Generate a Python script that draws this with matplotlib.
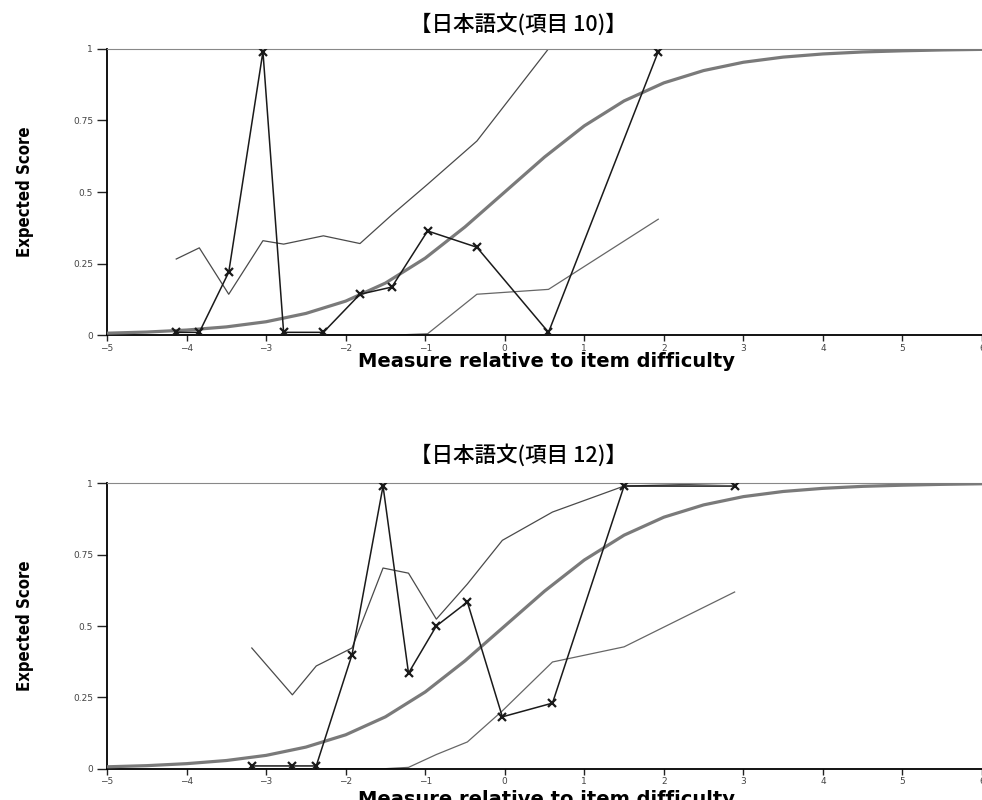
import matplotlib
matplotlib.use('Agg')
import matplotlib.pyplot as plt

# model curve (expected score) at half-logit steps
ogive_x = [-5, -4.5, -4, -3.5, -3, -2.5, -2, -1.5, -1, -0.5, 0, 0.5, 1, 1.5, 2, 2.5, 3, 3.5, 4, 4.5, 5, 5.5, 6]
ogive_y = [0.007, 0.011, 0.018, 0.029, 0.047, 0.076, 0.119, 0.182, 0.269, 0.378, 0.5, 0.622,
           0.731, 0.818, 0.881, 0.924, 0.953, 0.971, 0.982, 0.989, 0.993, 0.996, 0.998]

# item 10
x10 = [-4.13, -3.84, -3.47, -3.04, -2.78, -2.28, -1.82, -1.42, -0.97, -0.35, 0.55, 1.93]
emp10 = [0.01, 0.01, 0.22, 0.99, 0.01, 0.01, 0.143, 0.168, 0.364, 0.307, 0.01, 0.99]
upper10 = [0.266, 0.305, 0.143, 0.33, 0.318, 0.347, 0.32, 0.42, 0.527, 0.678, 1.0, 1.0]
lower10 = [0, 0, 0, 0, 0, 0, 0, 0, 0.005, 0.143, 0.16, 0.405]

# item 12
x12 = [-3.18, -2.67, -2.37, -1.92, -1.53, -1.21, -0.86, -0.47, -0.03, 0.6, 1.5, 2.89]
emp12 = [0.01, 0.01, 0.01, 0.40, 0.99, 0.335, 0.50, 0.584, 0.182, 0.23, 0.99, 0.99]
upper12 = [0.423, 0.259, 0.36, 0.423, 0.703, 0.685, 0.524, 0.647, 0.80, 0.899, 0.99, 1.0]
lower12 = [0, 0, 0, 0, 0, 0.005, 0.05, 0.094, 0.203, 0.374, 0.427, 0.619]

titles = ['【日本語文(項目 10)】', '【日本語文(項目 12)】']
xticks = list(range(-5, 7))
yticks = [0, 0.25, 0.5, 0.75, 1]
yticklabels = ['0', '0.25', '0.5', '0.75', '1']

fig = plt.figure(figsize=(9.82, 8), dpi=100)

def draw_panel(rect, title, title_y, xlab_y, xs, emp, upper, lower):
    ax = fig.add_axes(rect)
    ax.plot(ogive_x, ogive_y, color='#7a7a7a', lw=2.3, zorder=3)
    ax.plot(xs, upper, color='#4a4a4a', lw=0.9, zorder=2)
    ax.plot(xs, lower, color='#666666', lw=0.9, zorder=2)
    ax.plot(xs, emp, color='#1a1a1a', lw=1.1, marker='x', ms=6, mew=1.6, zorder=4)
    ax.set_xlim(-5, 6)
    ax.set_ylim(0, 1)
    ax.set_xticks(xticks)
    ax.set_yticks(yticks)
    ax.set_yticklabels(yticklabels)
    ax.tick_params(labelsize=6.5, labelcolor='#444444', color='#222222', width=1)
    ax.tick_params(axis='x', length=4, pad=2)
    ax.tick_params(axis='y', length=7, pad=3)
    ax.spines['right'].set_visible(False)
    ax.spines['top'].set_color('#888888')
    ax.spines['left'].set_linewidth(1.3)
    ax.spines['bottom'].set_linewidth(1.3)
    fig.text(546 / 982, xlab_y, 'Measure relative to item difficulty', ha='center', va='baseline',
             fontsize=14, fontweight='bold', family='DejaVu Sans')
    ax.set_ylabel('Expected Score', fontsize=12, fontweight='bold', fontstretch='condensed',
                  family=['DejaVu Sans'])
    ax.yaxis.set_label_coords(-0.084, 0.5)
    fig.text(518 / 982, title_y, title, ha='center', va='center', fontsize=15.5,
             fontweight='medium', family=['Noto Sans CJK JP', 'DejaVu Sans'])
    return ax

draw_panel([0.109, 0.581, 0.891, 0.358], titles[0], 0.969, 1 - 367 / 800, x10, emp10, upper10, lower10)
draw_panel([0.109, 0.039, 0.891, 0.357], titles[1], 0.431, 1 - 805 / 800, x12, emp12, upper12, lower12)

plt.savefig('out.png', dpi=100)
